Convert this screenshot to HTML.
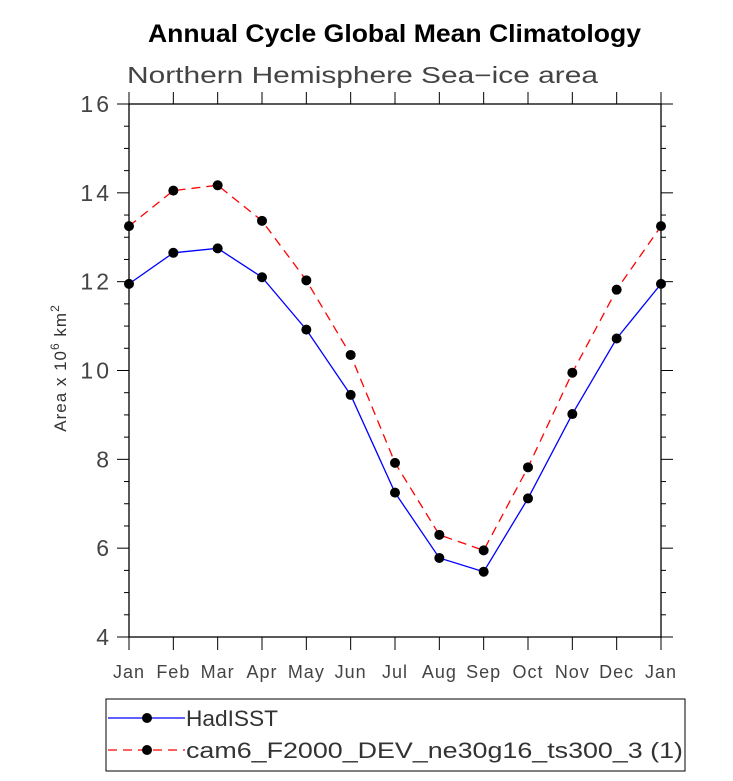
<!DOCTYPE html>
<html><head><meta charset="utf-8"><style>
body{margin:0;background:#fff;}
svg text{font-family:"Liberation Sans",sans-serif;}
</style></head><body>
<svg width="733" height="776" viewBox="0 0 733 776">
<text x="148" y="42" textLength="493" lengthAdjust="spacingAndGlyphs" font-size="25" font-weight="bold">Annual Cycle Global Mean Climatology</text>
<text x="127" y="83" textLength="471" lengthAdjust="spacingAndGlyphs" font-size="23" fill="#444">Northern Hemisphere Sea−ice area</text>
<text transform="translate(66,368) rotate(-90)" text-anchor="middle" font-size="17" fill="#333" letter-spacing="1">Area x 10<tspan font-size="12" dy="-7">6</tspan><tspan dy="7"> km</tspan><tspan font-size="12" dy="-7">2</tspan></text>
<g id="axes"></g>
<g id="series"></g>
<rect x="106" y="699" width="579" height="72" fill="none" stroke="#000" stroke-width="1"/>
<g>
<line x1="108" y1="718" x2="185" y2="718" stroke="#00f" stroke-width="1.3"/>
<circle cx="147" cy="718" r="5" fill="#000"/>
<text x="186" y="726" textLength="92" lengthAdjust="spacingAndGlyphs" font-size="22" fill="#333">HadISST</text>
</g>
<g>
<line x1="108" y1="750" x2="185" y2="750" stroke="#f00" stroke-width="1.3" stroke-dasharray="9,6"/>
<circle cx="147" cy="750" r="5" fill="#000"/>
<text x="186" y="758" textLength="497" lengthAdjust="spacingAndGlyphs" font-size="22" fill="#333">cam6_F2000_DEV_ne30g16_ts300_3 (1)</text>
</g>
</svg>
<script>
const months=["Jan","Feb","Mar","Apr","May","Jun","Jul","Aug","Sep","Oct","Nov","Dec","Jan"];
const hadisst=[11.95,12.65,12.75,12.1,10.92,9.45,7.25,5.78,5.47,7.12,9.02,10.72,11.95];
const cam6=[13.25,14.05,14.17,13.37,12.03,10.35,7.92,6.3,5.95,7.82,9.95,11.82,13.25];
const yTicks=[4,6,8,10,12,14,16];
const NS="http://www.w3.org/2000/svg";
const L=129,R=661,T=104,B=637;
const xs=i=>L+(R-L)*i/12;
const ys=v=>B-(B-T)*(v-4)/12;
function mk(tag,attrs,parent){const e=document.createElementNS(NS,tag);for(const k in attrs)e.setAttribute(k,attrs[k]);parent.appendChild(e);return e;}
const ax=document.getElementById('axes');
const frame=mk('rect',{x:L,y:T,width:R-L,height:B-T,fill:'none',stroke:'#000','stroke-width':1.3},ax);


for(let v=4;v<=16;v+=0.5){const maj=v%2===0;const len=maj?12:5;
 mk('line',{x1:L-len,y1:ys(v),x2:L,y2:ys(v),stroke:'#000','stroke-width':1},ax);
 mk('line',{x1:R,y1:ys(v),x2:R+len,y2:ys(v),stroke:'#000','stroke-width':1},ax);}
yTicks.forEach(v=>{const t=mk('text',{x:112,y:ys(v)+8,'text-anchor':'end','font-size':23,'letter-spacing':3,fill:'#444'},ax);t.textContent=v;
 
 });
months.forEach((m,i)=>{
 mk('line',{x1:xs(i),y1:B,x2:xs(i),y2:B+13,stroke:'#000','stroke-width':1},ax);
 mk('line',{x1:xs(i),y1:T,x2:xs(i),y2:T-12,stroke:'#000','stroke-width':1},ax);
 const t=mk('text',{x:xs(i),y:678,'text-anchor':'middle','font-size':18,'letter-spacing':1,fill:'#444'},ax);t.textContent=m;
 
 });
const sg=document.getElementById('series');
function series(data,color,dash,name){
 const g=mk('g',{},sg);
 
 
 const a={points:data.map((v,i)=>xs(i)+','+ys(v)).join(' '),fill:'none',stroke:color,'stroke-width':1.3};
 if(dash)a['stroke-dasharray']=dash;
 mk('polyline',a,g);
 data.forEach((v,i)=>{const c=mk('circle',{cx:xs(i),cy:ys(v),r:5,fill:'#000'},g);
  
  });
}
series(hadisst,'#00f',null,'series-hadisst');
series(cam6,'#f00','9,6','series-cam6');
</script>
</body></html>
